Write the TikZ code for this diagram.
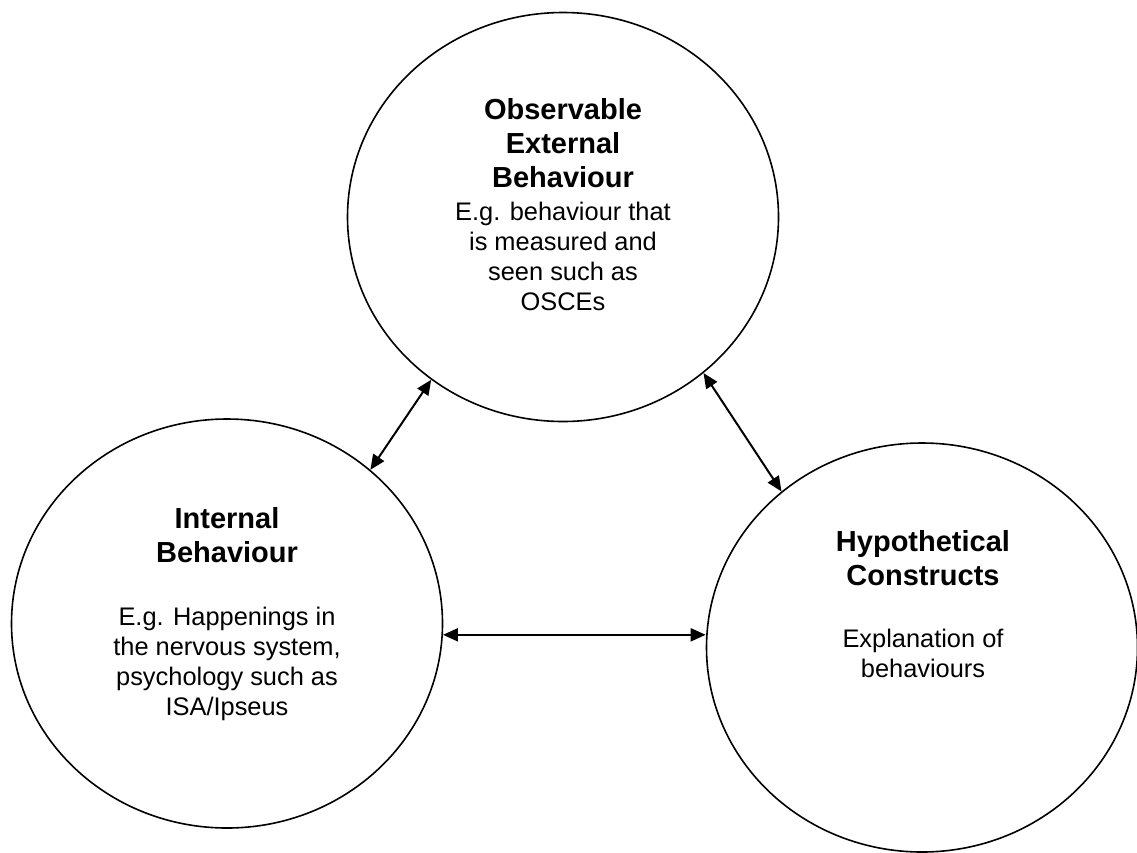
\documentclass[tikz,border=0pt]{standalone}
\usepackage{fontspec}
\setmainfont{Liberation Sans}
\usetikzlibrary{arrows.meta,shapes.geometric}
\begin{document}
\begin{tikzpicture}[x=1pt,y=-1pt,
  bubble/.style={draw,ellipse,line width=1.6pt,minimum width=431pt,minimum height=409pt,inner sep=0pt},
  heading/.style={font=\fontsize{29}{34}\selectfont\bfseries,align=center,inner sep=0pt,anchor=base},
  body/.style={font=\fontsize{25.4}{30}\selectfont,align=center,inner sep=0pt,anchor=base},
  link/.style={line width=2pt,{Triangle[length=15pt,width=13pt]}-{Triangle[length=15pt,width=13pt]}}]
\useasboundingbox (0,0) rectangle (1137,852);

% the three circles
\node[bubble] (obs) at (563,217) {};
\node[bubble] (int) at (227,623.5) {};
\node[bubble] (hyp) at (922,647.5) {};

% texts inside the circles (placed by the baseline of their last line)
\node[heading] (obsT) at (563,187) {Observable\\External\\Behaviour};
\node[body] (obsB) at (563,310) {E.g. behaviour that\\is measured and\\seen such as\\OSCEs};
\node[heading] (intT) at (227,562) {Internal\\Behaviour};
\node[body] (intB) at (227,715) {E.g. Happenings in\\the nervous system,\\psychology such as\\ISA/Ipseus};
\node[heading] (hypT) at (923,585) {Hypothetical\\Constructs};
\node[body] (hypB) at (923,677) {Explanation of\\behaviours};

% two-way links
\draw[link] (obs.231.1) -- (int.47.2);
\draw[link] (obs.312.7) -- (hyp.132.2);
\coordinate (intE) at (int.-3);
\draw[link] (intE) -- (intE -| hyp.west);
\end{tikzpicture}
\end{document}
